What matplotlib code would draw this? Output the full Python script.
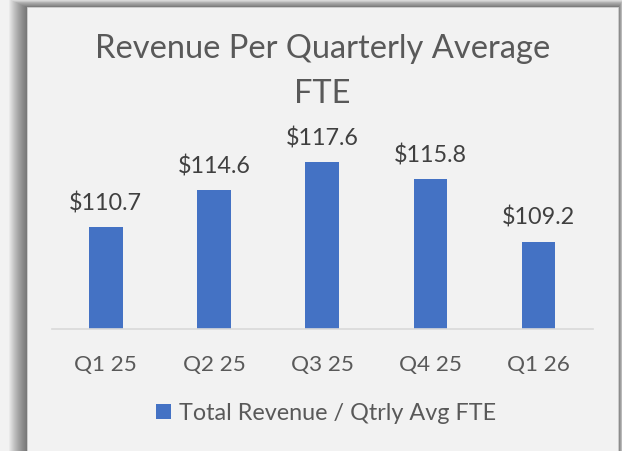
import matplotlib
matplotlib.use("Agg")
import matplotlib.pyplot as plt
from matplotlib.patches import Rectangle

# data
quarters = ["Q1 25", "Q2 25", "Q3 25", "Q4 25", "Q1 26"]
rev_per_fte = [110.7, 114.6, 117.6, 115.8, 109.2]
series_name = "Total Revenue / Qtrly Avg FTE"
title_lines = ["Revenue Per Quarterly Average", "FTE"]

W, H = 622, 451
BLUE = "#4472C4"
TXT = "#595959"
BG = "#F2F2F2"

plt.rcParams["font.family"] = ["Lato", "DejaVu Sans"]

fig = plt.figure(figsize=(W / 100, H / 100), dpi=100)
fig.patch.set_facecolor(BG)


def px_rect(x0, y0, x1, y1, **kw):
    # rectangle given in pixel coords (origin top-left)
    return Rectangle((x0 / W, 1 - y1 / H), (x1 - x0) / W, (y1 - y0) / H,
                     transform=fig.transFigure, **kw)


# soft shadow round the chart box
bx0, by0, bx1, by1 = 26.7, 7.3, 618.3, 470
n = 18
for i in range(n, 0, -1):
    f = i / n
    fig.patches.append(px_rect(bx0 - 18 * f, by0 - 8 * f, bx1 + 5 * f, by1,
                               facecolor="black", edgecolor="none",
                               alpha=0.035, zorder=-10))
fig.patches.append(px_rect(bx0, by0, bx1, by1, facecolor=BG,
                           edgecolor="#D0D0D0", linewidth=0.6, zorder=-5))

ax = fig.add_axes([51.7 / W, (H - 329) / H, (592.7 - 51.7) / W, 190 / H])
ax.set_zorder(2)
ax.patch.set_alpha(0)

x = range(len(quarters))
bars = ax.bar(x, rev_per_fte, width=0.31, color=BLUE, label=series_name)
ax.set_ylim(100, 120)
ax.set_xlim(-0.5, len(quarters) - 0.5)

for b, v in zip(bars, rev_per_fte):
    ax.annotate("${:.1f}".format(v), (b.get_x() + b.get_width() / 2, v),
                xytext=(0, 12), textcoords="offset points",
                ha="center", va="baseline", fontsize=16.8, color="#404040")

ax.set_xticks(list(x))
ax.set_xticklabels(quarters, fontsize=16.2, color=TXT)
ax.tick_params(axis="x", length=0, pad=18.5)
ax.set_yticks([])
for s in ["top", "right", "left"]:
    ax.spines[s].set_visible(False)
ax.spines["bottom"].set_color("#D9D9D9")
ax.spines["bottom"].set_linewidth(1.2)

fig.text(322.5 / W, 1 - 58 / H, title_lines[0], ha="center", va="baseline",
         fontsize=23.5, color=TXT)
fig.text(322.5 / W, 1 - 102.7 / H, title_lines[1], ha="center", va="baseline",
         fontsize=23.5, color=TXT)

fig.legend(handles=[bars], labels=[series_name], loc="center",
           bbox_to_anchor=(326.5 / W, 1 - 413.5 / H), frameon=False,
           fontsize=16.8, labelcolor=TXT, handlelength=0.62, handleheight=0.62,
           handletextpad=0.37, borderpad=0, borderaxespad=0)

fig.savefig("out.png", dpi=100, facecolor=BG)
